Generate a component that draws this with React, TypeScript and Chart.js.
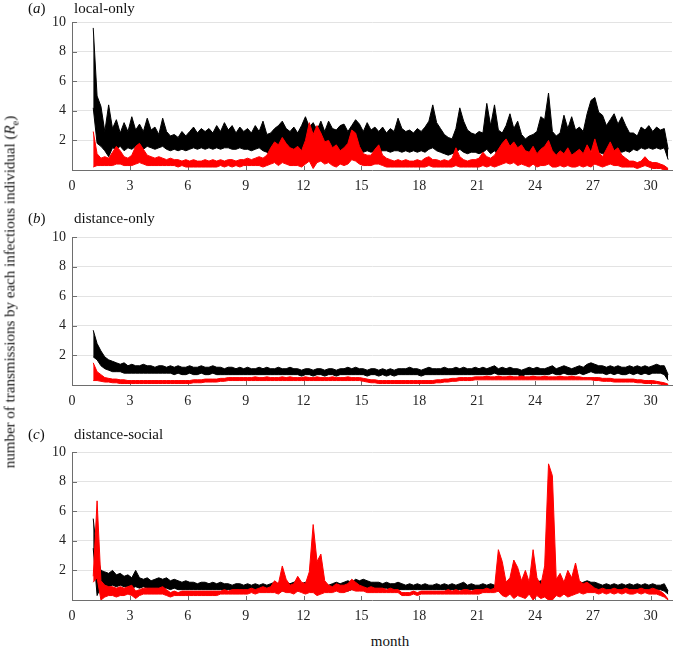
import React, { useEffect, useRef } from "react";
import { Chart, registerables } from "chart.js";

Chart.register(...registerables);

// time axis: first sample month and sampling step (months)
const START_MONTH = 1.1;
const STEP = 0.2;
const X_TICKS = [0, 3, 6, 9, 12, 15, 18, 21, 24, 27, 30];
const Y_TICKS = [2, 4, 6, 8, 10];
const X_MAX = 31.1;
const Y_MAX = 10;

// ---------- (a) local-only ----------
const A_BLACK_HI = [
  9.6, 5.0, 4.3, 2.6, 4.4, 2.8, 3.4, 2.5, 3.2, 2.6,
  3.6, 2.7, 3.1, 2.6, 3.5, 2.7, 2.9, 2.4, 3.5, 2.6,
  2.3, 2.4, 2.2, 2.6, 2.3, 2.6, 2.9, 2.5, 2.8, 2.6,
  2.8, 2.5, 3.0, 2.6, 3.2, 2.7, 3.0, 2.5, 2.9, 2.6,
  2.8, 2.5, 3.0, 2.6, 3.3, 2.4, 2.5, 2.8, 3.0, 3.3,
  2.8, 2.6, 2.9, 2.5, 3.0, 3.6, 2.9, 3.2, 2.7, 3.3,
  2.6, 3.3, 2.8, 2.7, 3.0, 3.1, 2.6, 3.0, 3.4, 3.1,
  2.6, 3.2, 2.7, 2.9, 2.6, 2.9, 2.5, 2.8, 2.6, 3.5,
  2.8, 2.6, 2.7, 2.5, 2.8, 2.6, 2.9, 3.3, 4.4, 3.2,
  2.8, 2.4, 2.2, 2.1, 2.8, 4.2, 3.3, 2.7, 2.5, 2.4,
  2.6, 2.5, 4.5, 3.0, 4.4, 2.7, 2.5, 3.0, 3.8, 2.8,
  3.3, 2.4, 2.1, 2.3, 2.4, 2.6, 3.6, 3.4, 5.2, 2.6,
  2.3, 2.5, 3.7, 2.8, 3.6, 2.7, 2.9, 2.6, 3.8, 4.7,
  4.9, 3.9, 3.7, 3.0, 3.4, 3.8, 3.1, 3.6, 3.0, 2.5,
  2.5, 2.3, 2.9, 2.7, 3.0, 2.6, 2.9, 2.7, 2.8, 1.4,
];
const A_BLACK_LO = [
  4.2, 1.8, 1.6, 1.3, 0.9, 1.5, 1.4, 1.6, 1.3, 1.5,
  1.4, 1.6, 1.5, 1.4, 1.6, 1.5, 1.4, 1.5, 1.6, 1.4,
  1.3, 1.4, 1.3, 1.4, 1.3, 1.4, 1.5, 1.4, 1.5, 1.4,
  1.5, 1.4, 1.5, 1.4, 1.5, 1.5, 1.4, 1.4, 1.5, 1.4,
  1.4, 1.3, 1.4, 1.5, 1.3, 1.2, 1.1, 1.0, 1.1, 1.2,
  1.0, 0.9, 1.1, 0.9, 1.0, 1.2, 0.8, 1.1, 0.9, 1.2,
  0.9, 1.1, 1.0, 0.8, 1.1, 1.0, 0.9, 1.2, 1.1, 1.3,
  1.2, 1.3, 1.2, 1.3, 1.2, 1.3, 1.3, 1.2, 1.3, 1.3,
  1.2, 1.3, 1.2, 1.3, 1.2, 1.3, 1.2, 1.4, 1.5, 1.3,
  1.2, 1.1, 1.0, 1.1, 1.2, 1.4, 1.2, 1.1, 1.2, 1.2,
  1.1, 1.2, 1.4, 1.1, 1.3, 1.0, 1.1, 1.0, 1.2, 0.9,
  1.0, 0.9, 0.8, 1.0, 0.9, 1.1, 1.0, 1.2, 1.3, 0.9,
  0.9, 0.8, 1.1, 0.9, 1.0, 0.9, 1.1, 1.0, 1.2, 1.3,
  1.4, 1.2, 1.1, 1.2, 1.3, 1.2, 1.3, 1.2, 1.3, 1.2,
  1.4, 1.3, 1.5, 1.4, 1.5, 1.4, 1.5, 1.4, 1.5, 0.7,
];
const A_RED_HI = [
  2.6, 1.1, 0.8, 0.9, 0.8, 1.2, 1.6, 1.3, 0.9, 0.8,
  1.0, 1.6, 1.8, 1.4, 1.0, 0.9, 0.8, 0.9, 0.8, 0.7,
  0.8, 0.7, 0.7, 0.6, 0.7, 0.6, 0.7, 0.6, 0.6, 0.7,
  0.6, 0.7, 0.6, 0.7, 0.6, 0.7, 0.7, 0.6, 0.7, 0.7,
  0.8, 0.7, 0.8, 0.9, 0.8, 1.0, 1.5, 1.9, 1.7, 2.2,
  1.8, 1.5, 1.4, 1.6, 1.3, 2.0, 3.2, 2.4, 3.0, 2.5,
  1.9, 2.0, 1.5, 1.7, 1.3, 1.5, 1.8, 2.7, 2.5, 1.6,
  1.1, 1.0, 1.0, 1.4, 1.7, 1.0, 0.8, 0.7, 0.6, 0.7,
  0.6, 0.7, 0.6, 0.6, 0.7, 0.6, 0.8, 0.9, 0.7, 0.7,
  0.6, 0.7, 0.6, 0.8, 1.5, 0.9, 0.7, 0.6, 0.7, 0.7,
  0.8, 1.2, 0.9, 0.8, 1.0, 1.4, 1.8, 2.1, 1.6, 1.9,
  1.5, 1.7, 1.3, 1.2, 1.6, 1.1, 1.4, 1.6, 2.0, 1.3,
  1.0, 1.3, 1.1, 1.5, 1.0, 1.2, 1.4, 1.1, 1.7, 1.2,
  2.1, 1.2, 0.9, 1.4, 1.9, 1.3, 1.5, 1.0, 0.8, 0.6,
  0.6, 0.5, 0.6, 0.9, 0.6, 0.5, 0.5, 0.4, 0.3, 0.1,
];
const A_RED_LO = [
  0.2, 0.3, 0.3, 0.3, 0.3, 0.3, 0.4, 0.4, 0.3, 0.3,
  0.3, 0.4, 0.5, 0.4, 0.3, 0.3, 0.3, 0.3, 0.3, 0.3,
  0.3, 0.3, 0.2, 0.3, 0.2, 0.2, 0.2, 0.2, 0.2, 0.2,
  0.2, 0.2, 0.2, 0.3, 0.2, 0.3, 0.2, 0.3, 0.2, 0.3,
  0.3, 0.3, 0.3, 0.3, 0.2, 0.3, 0.4, 0.5, 0.3, 0.5,
  0.4, 0.3, 0.3, 0.3, 0.2, 0.4, 0.6, 0.1, 0.5, 0.6,
  0.4, 0.5, 0.3, 0.2, 0.4, 0.3, 0.4, 0.7, 0.6, 0.4,
  0.3, 0.3, 0.3, 0.4, 0.4, 0.3, 0.2, 0.2, 0.2, 0.2,
  0.2, 0.2, 0.2, 0.2, 0.2, 0.2, 0.2, 0.3, 0.2, 0.2,
  0.2, 0.2, 0.2, 0.2, 0.3, 0.2, 0.2, 0.2, 0.2, 0.2,
  0.2, 0.3, 0.2, 0.3, 0.2, 0.3, 0.4, 0.5, 0.4, 0.5,
  0.3, 0.4, 0.3, 0.2, 0.4, 0.2, 0.3, 0.3, 0.4, 0.2,
  0.2, 0.3, 0.2, 0.3, 0.2, 0.2, 0.3, 0.2, 0.3, 0.2,
  0.4, 0.3, 0.2, 0.3, 0.4, 0.3, 0.3, 0.2, 0.2, 0.2,
  0.2, 0.1, 0.2, 0.3, 0.2, 0.1, 0.1, 0.1, 0.0, 0.0,
];

// ---------- (b) distance-only ----------
const B_BLACK_HI = [
  3.7, 2.8, 2.3, 1.9, 1.7, 1.6, 1.5, 1.4, 1.5, 1.3,
  1.4, 1.3, 1.3, 1.4, 1.3, 1.3, 1.2, 1.3, 1.3, 1.2,
  1.3, 1.2, 1.3, 1.2, 1.2, 1.3, 1.2, 1.2, 1.3, 1.2,
  1.2, 1.3, 1.2, 1.2, 1.1, 1.2, 1.2, 1.1, 1.2, 1.1,
  1.2, 1.1, 1.1, 1.2, 1.1, 1.2, 1.1, 1.1, 1.2, 1.1,
  1.1, 1.2, 1.1, 1.1, 1.0, 1.1, 1.1, 1.0, 1.1, 1.1,
  1.0, 1.1, 1.1, 1.0, 1.1, 1.1, 1.2, 1.1, 1.2, 1.1,
  1.1, 1.0, 1.1, 1.1, 1.0, 1.1, 1.0, 1.1, 1.0, 1.1,
  1.1, 1.1, 1.2, 1.1, 1.1, 1.0, 1.1, 1.2, 1.1, 1.1,
  1.1, 1.2, 1.1, 1.1, 1.2, 1.1, 1.2, 1.1, 1.1, 1.2,
  1.1, 1.2, 1.1, 1.2, 1.3, 1.1, 1.2, 1.1, 1.2, 1.1,
  1.1, 1.0, 1.1, 1.2, 1.1, 1.2, 1.1, 1.1, 1.2, 1.3,
  1.1, 1.2, 1.3, 1.2, 1.1, 1.2, 1.3, 1.2, 1.4, 1.5,
  1.4, 1.3, 1.3, 1.2, 1.3, 1.2, 1.3, 1.2, 1.2, 1.3,
  1.2, 1.3, 1.2, 1.3, 1.2, 1.3, 1.4, 1.3, 1.3, 0.7,
];
const B_BLACK_LO = [
  1.9, 1.7, 1.3, 1.1, 1.0, 0.9, 0.9, 0.9, 0.8, 0.8,
  0.8, 0.8, 0.8, 0.8, 0.8, 0.8, 0.8, 0.8, 0.8, 0.8,
  0.8, 0.7, 0.8, 0.7, 0.7, 0.8, 0.7, 0.7, 0.8, 0.7,
  0.7, 0.8, 0.7, 0.7, 0.7, 0.7, 0.7, 0.7, 0.7, 0.7,
  0.7, 0.7, 0.7, 0.7, 0.7, 0.7, 0.7, 0.7, 0.7, 0.7,
  0.7, 0.7, 0.7, 0.7, 0.6, 0.7, 0.7, 0.6, 0.7, 0.7,
  0.6, 0.7, 0.7, 0.6, 0.7, 0.7, 0.7, 0.7, 0.7, 0.7,
  0.7, 0.6, 0.7, 0.7, 0.6, 0.7, 0.6, 0.7, 0.6, 0.7,
  0.7, 0.7, 0.7, 0.7, 0.7, 0.6, 0.7, 0.7, 0.7, 0.7,
  0.7, 0.7, 0.7, 0.7, 0.7, 0.7, 0.7, 0.7, 0.7, 0.7,
  0.7, 0.7, 0.7, 0.7, 0.8, 0.7, 0.7, 0.7, 0.7, 0.7,
  0.7, 0.6, 0.7, 0.7, 0.7, 0.7, 0.7, 0.7, 0.7, 0.8,
  0.7, 0.7, 0.8, 0.7, 0.7, 0.7, 0.8, 0.7, 0.8, 0.9,
  0.8, 0.8, 0.8, 0.7, 0.8, 0.7, 0.8, 0.7, 0.7, 0.8,
  0.7, 0.8, 0.7, 0.8, 0.7, 0.8, 0.8, 0.8, 0.7, 0.3,
];
const B_RED_HI = [
  1.5, 0.9, 0.7, 0.5, 0.45, 0.4, 0.4, 0.35, 0.35, 0.3,
  0.3, 0.3, 0.3, 0.3, 0.3, 0.3, 0.3, 0.3, 0.3, 0.3,
  0.3, 0.3, 0.3, 0.3, 0.3, 0.3, 0.35, 0.35, 0.35, 0.4,
  0.4, 0.4, 0.4, 0.45, 0.45, 0.5, 0.5, 0.5, 0.5, 0.5,
  0.5, 0.5, 0.55, 0.5, 0.5, 0.55, 0.5, 0.5, 0.5, 0.55,
  0.5, 0.55, 0.5, 0.5, 0.5, 0.55, 0.5, 0.5, 0.55, 0.5,
  0.5, 0.5, 0.55, 0.5, 0.5, 0.5, 0.55, 0.5, 0.5, 0.5,
  0.45, 0.4, 0.35, 0.35, 0.3, 0.3, 0.3, 0.3, 0.3, 0.3,
  0.3, 0.3, 0.3, 0.3, 0.3, 0.3, 0.3, 0.3, 0.3, 0.35,
  0.35, 0.4, 0.4, 0.45, 0.45, 0.5, 0.5, 0.5, 0.5, 0.55,
  0.55, 0.55, 0.6, 0.55, 0.55, 0.6, 0.55, 0.55, 0.6, 0.55,
  0.55, 0.6, 0.55, 0.55, 0.6, 0.55, 0.55, 0.6, 0.55, 0.55,
  0.55, 0.6, 0.55, 0.55, 0.6, 0.55, 0.55, 0.5, 0.5, 0.5,
  0.5, 0.5, 0.45, 0.45, 0.45, 0.4, 0.4, 0.4, 0.4, 0.4,
  0.4, 0.35, 0.35, 0.3, 0.3, 0.3, 0.25, 0.2, 0.15, 0.05,
];
const B_RED_LO = [
  0.3, 0.3, 0.25, 0.2, 0.2, 0.15, 0.15, 0.1, 0.1, 0.1,
  0.1, 0.1, 0.1, 0.1, 0.1, 0.1, 0.1, 0.1, 0.1, 0.1,
  0.1, 0.1, 0.1, 0.1, 0.1, 0.1, 0.15, 0.15, 0.15, 0.2,
  0.2, 0.2, 0.2, 0.25, 0.25, 0.3, 0.3, 0.3, 0.3, 0.3,
  0.3, 0.3, 0.3, 0.3, 0.3, 0.3, 0.3, 0.3, 0.3, 0.3,
  0.3, 0.3, 0.3, 0.3, 0.3, 0.3, 0.3, 0.3, 0.3, 0.3,
  0.3, 0.3, 0.3, 0.3, 0.3, 0.3, 0.3, 0.3, 0.3, 0.3,
  0.25, 0.2, 0.15, 0.15, 0.1, 0.1, 0.1, 0.1, 0.1, 0.1,
  0.1, 0.1, 0.1, 0.1, 0.1, 0.1, 0.1, 0.1, 0.1, 0.15,
  0.15, 0.2, 0.2, 0.25, 0.25, 0.3, 0.3, 0.3, 0.3, 0.35,
  0.35, 0.35, 0.35, 0.35, 0.35, 0.35, 0.35, 0.35, 0.35, 0.35,
  0.35, 0.35, 0.35, 0.35, 0.35, 0.35, 0.35, 0.35, 0.35, 0.35,
  0.35, 0.35, 0.35, 0.35, 0.35, 0.35, 0.35, 0.35, 0.35, 0.35,
  0.3, 0.3, 0.25, 0.25, 0.25, 0.2, 0.2, 0.2, 0.2, 0.2,
  0.2, 0.15, 0.15, 0.1, 0.1, 0.1, 0.1, 0.05, 0.0, 0.0,
];

// ---------- (c) distance-social ----------
const C_BLACK_HI = [
  5.5, 3.0, 2.0, 1.9, 1.8, 2.0, 1.7, 1.8, 1.6, 1.7,
  1.5, 2.0, 1.5, 1.4, 1.5, 1.3, 1.4, 1.5, 1.4, 1.5,
  1.3, 1.4, 1.3, 1.2, 1.3, 1.2, 1.2, 1.1, 1.2, 1.2,
  1.1, 1.2, 1.1, 1.2, 1.1, 1.1, 1.0, 1.1, 1.1, 1.0,
  1.1, 1.0, 1.1, 1.0, 1.1, 1.0, 1.1, 1.2, 1.1, 1.5,
  1.2, 1.1, 1.2, 1.3, 1.1, 1.2, 1.1, 1.3, 1.6, 1.3,
  1.1, 1.0, 1.1, 1.2, 1.1, 1.2, 1.3, 1.2, 1.4, 1.3,
  1.4, 1.3, 1.2, 1.2, 1.2, 1.1, 1.2, 1.1, 1.1, 1.2,
  1.1, 1.0, 1.1, 1.0, 1.1, 1.0, 1.1, 1.0, 1.0, 1.1,
  1.0, 1.1, 1.0, 1.1, 1.0, 1.1, 1.2, 1.0, 1.1, 1.0,
  1.0, 1.1, 1.0, 1.1, 1.0, 1.1, 1.2, 1.2, 1.3, 1.2,
  1.3, 1.2, 1.3, 1.2, 1.3, 1.2, 1.3, 1.2, 1.4, 1.3,
  1.2, 1.3, 1.2, 1.2, 1.3, 1.2, 1.1, 1.2, 1.3, 1.2,
  1.2, 1.1, 1.0, 1.1, 1.0, 1.1, 1.0, 1.1, 1.0, 1.1,
  1.0, 1.1, 1.0, 1.1, 1.0, 1.1, 1.0, 1.0, 1.1, 0.6,
];
const C_BLACK_LO = [
  3.5, 0.3, 0.9, 1.0, 0.9, 1.0, 0.9, 1.0, 0.9, 0.9,
  0.8, 0.9, 0.8, 0.9, 0.8, 0.8, 0.8, 0.8, 0.8, 0.8,
  0.7, 0.8, 0.7, 0.7, 0.7, 0.7, 0.7, 0.7, 0.7, 0.7,
  0.7, 0.7, 0.7, 0.7, 0.7, 0.7, 0.7, 0.7, 0.7, 0.7,
  0.7, 0.7, 0.7, 0.7, 0.7, 0.7, 0.7, 0.6, 0.6, 0.6,
  0.6, 0.6, 0.7, 0.6, 0.7, 0.5, 0.6, 0.6, 0.5, 0.6,
  0.7, 0.7, 0.6, 0.7, 0.7, 0.6, 0.6, 0.7, 0.7, 0.7,
  0.8, 0.8, 0.8, 0.8, 0.8, 0.8, 0.8, 0.7, 0.7, 0.7,
  0.7, 0.7, 0.7, 0.7, 0.7, 0.7, 0.7, 0.7, 0.7, 0.7,
  0.7, 0.7, 0.7, 0.7, 0.7, 0.7, 0.7, 0.7, 0.7, 0.7,
  0.7, 0.7, 0.7, 0.7, 0.7, 0.6, 0.5, 0.5, 0.6, 0.5,
  0.5, 0.4, 0.5, 0.4, 0.3, 0.5, 0.4, 0.3, 0.2, 0.4,
  0.5, 0.4, 0.5, 0.4, 0.5, 0.5, 0.6, 0.6, 0.7, 0.7,
  0.7, 0.7, 0.7, 0.7, 0.7, 0.7, 0.7, 0.7, 0.7, 0.7,
  0.7, 0.7, 0.7, 0.7, 0.7, 0.7, 0.7, 0.7, 0.6, 0.4,
];
const C_RED_HI = [
  1.6, 6.7, 1.3, 1.0, 0.9, 0.9, 0.8, 0.9, 0.8, 0.9,
  1.0, 0.6, 0.7, 0.8, 0.8, 0.8, 0.8, 0.8, 0.9, 0.7,
  0.5, 0.6, 0.5, 0.6, 0.6, 0.6, 0.6, 0.6, 0.6, 0.6,
  0.6, 0.6, 0.6, 0.6, 0.7, 0.6, 0.7, 0.7, 0.7, 0.7,
  0.7, 0.8, 0.7, 0.8, 0.9, 0.8, 0.9, 1.3, 1.1, 2.3,
  1.4, 1.0, 1.1, 1.6, 1.2, 1.1, 1.9, 5.1, 2.6, 3.1,
  1.3, 1.0, 0.9, 1.1, 1.0, 1.0, 1.1, 1.4, 1.2, 1.0,
  0.9, 0.8, 0.9, 0.8, 0.8, 0.8, 0.7, 0.8, 0.7, 0.7,
  0.5, 0.5, 0.5, 0.6, 0.5, 0.6, 0.6, 0.6, 0.6, 0.6,
  0.6, 0.6, 0.7, 0.6, 0.7, 0.6, 0.7, 0.7, 0.6, 0.7,
  0.7, 0.7, 0.8, 0.7, 0.8, 3.4, 2.6, 1.2, 1.5, 2.7,
  2.2, 1.3, 2.0, 1.2, 3.4, 1.5, 1.0, 2.3, 9.2, 8.4,
  1.4, 1.8, 1.2, 2.0, 1.5, 2.5, 1.3, 1.1, 1.2, 1.0,
  0.8, 0.7, 0.8, 0.7, 0.7, 0.8, 0.7, 0.7, 0.8, 0.7,
  0.7, 0.7, 0.8, 0.7, 0.7, 0.8, 0.7, 0.6, 0.4, 0.05,
];
const C_RED_LO = [
  1.2, 1.5, 0.0, 0.2, 0.3, 0.3, 0.2, 0.3, 0.3, 0.4,
  0.3, 0.1, 0.3, 0.4, 0.4, 0.4, 0.4, 0.4, 0.4, 0.3,
  0.2, 0.3, 0.3, 0.3, 0.3, 0.3, 0.3, 0.3, 0.3, 0.3,
  0.3, 0.3, 0.3, 0.4, 0.4, 0.4, 0.4, 0.4, 0.4, 0.4,
  0.4, 0.5, 0.4, 0.5, 0.5, 0.5, 0.5, 0.5, 0.4, 0.6,
  0.5, 0.5, 0.4, 0.6, 0.5, 0.4, 0.5, 0.5, 0.3, 0.4,
  0.5, 0.5, 0.5, 0.6, 0.5, 0.5, 0.6, 0.7, 0.6, 0.6,
  0.6, 0.5, 0.5, 0.5, 0.5, 0.5, 0.5, 0.5, 0.5, 0.5,
  0.3, 0.3, 0.3, 0.4, 0.3, 0.4, 0.4, 0.4, 0.4, 0.4,
  0.4, 0.4, 0.4, 0.4, 0.4, 0.4, 0.4, 0.4, 0.4, 0.4,
  0.4, 0.5, 0.5, 0.5, 0.5, 0.6, 0.3, 0.2, 0.4, 0.1,
  0.3, 0.2, 0.1, 0.4, 0.0, 0.3, 0.1, 0.2, 0.0, 0.0,
  0.3, 0.2, 0.4, 0.2, 0.3, 0.4, 0.5, 0.4, 0.5, 0.5,
  0.5, 0.4, 0.5, 0.4, 0.5, 0.4, 0.5, 0.4, 0.5, 0.4,
  0.4, 0.5, 0.4, 0.5, 0.4, 0.4, 0.4, 0.3, 0.2, 0.0,
];

const FONT = '"Liberation Serif", "Times New Roman", serif';
const BLACK = "#000000";
const RED = "#ff0000";
const AXIS = "#6e6e6e";
const GRID = "#e3e3e3";

const toPoints = (vals: number[]) =>
  vals.map((v, i) => ({ x: Math.round((START_MONTH + STEP * i) * 10) / 10, y: v }));

const innerTicks = {
  id: "innerTicks",
  beforeDatasetsDraw(chart: any) {
    const { ctx, chartArea, scales } = chart;
    const { left, bottom } = chartArea;
    ctx.save();
    ctx.strokeStyle = AXIS;
    ctx.lineWidth = 1;
    ctx.beginPath();
    X_TICKS.forEach((v) => {
      const px = Math.round(scales.x.getPixelForValue(v)) + 0.5;
      ctx.moveTo(px, bottom);
      ctx.lineTo(px, bottom - 4);
    });
    Y_TICKS.forEach((v) => {
      const py = Math.round(scales.y.getPixelForValue(v)) + 0.5;
      ctx.moveTo(left, py);
      ctx.lineTo(left + 5, py);
    });
    ctx.stroke();
    ctx.restore();
  },
};

type PanelProps = {
  top: number;
  blackHi: number[];
  blackLo: number[];
  redHi: number[];
  redLo: number[];
};

function Panel({ top, blackHi, blackLo, redHi, redLo }: PanelProps) {
  const ref = useRef<HTMLCanvasElement | null>(null);
  useEffect(() => {
    if (!ref.current) return;
    const line = (color: string, vals: number[], fill: any) => ({
      data: toPoints(vals),
      borderColor: color,
      backgroundColor: color,
      borderWidth: 1,
      pointRadius: 0,
      tension: 0,
      fill,
    });
    const chart = new Chart(ref.current, {
      type: "line",
      data: {
        datasets: [
          line(RED, redLo, false),
          line(RED, redHi, "-1"),
          line(BLACK, blackLo, false),
          line(BLACK, blackHi, "-1"),
        ],
      },
      plugins: [innerTicks],
      options: {
        animation: false,
        responsive: false,
        devicePixelRatio: 1,
        layout: { padding: { top: 22, right: 3, left: 0, bottom: 0 } },
        plugins: { legend: { display: false }, tooltip: { enabled: false } },
        scales: {
          x: {
            type: "linear",
            min: 0,
            max: X_MAX,
            afterBuildTicks: (axis: any) => {
              axis.ticks = X_TICKS.map((v) => ({ value: v }));
            },
            afterFit: (scale: any) => {
              scale.height = 28;
            },
            grid: { display: false, drawTicks: false },
            border: { display: true, color: AXIS, width: 1 },
            ticks: {
              color: "#222",
              padding: 8,
              maxRotation: 0,
              autoSkip: false,
              font: { family: FONT, size: 14 },
            },
          },
          y: {
            type: "linear",
            min: 0,
            max: Y_MAX,
            afterBuildTicks: (axis: any) => {
              axis.ticks = Y_TICKS.map((v) => ({ value: v }));
            },
            afterFit: (scale: any) => {
              scale.width = 72;
            },
            grid: { display: true, color: GRID, lineWidth: 1, drawTicks: false },
            border: { display: true, color: AXIS, width: 1 },
            ticks: {
              color: "#222",
              padding: 6,
              autoSkip: false,
              font: { family: FONT, size: 14 },
            },
          },
        },
      } as any,
    });
    return () => chart.destroy();
  }, [top, blackHi, blackLo, redHi, redLo]);
  return (
    <canvas
      ref={ref}
      width={675}
      height={198}
      style={{ position: "absolute", left: 0, top, width: 675, height: 198 }}
    />
  );
}

const textStyle: React.CSSProperties = {
  position: "absolute",
  fontFamily: FONT,
  fontSize: 15,
  lineHeight: "15px",
  color: "#111",
  whiteSpace: "nowrap",
};

function PanelTitle({ top, letter, name }: { top: number; letter: string; name: string }) {
  return (
    <>
      <div style={{ ...textStyle, left: 28, top }}>
        (<i>{letter}</i>)
      </div>
      <div style={{ ...textStyle, left: 74, top }}>{name}</div>
    </>
  );
}

export default function App() {
  return (
    <div
      style={{
        position: "absolute",
        left: 0,
        top: 0,
        width: 675,
        height: 649,
        background: "#fff",
        overflow: "hidden",
      }}
    >
      <Panel top={0} blackHi={A_BLACK_HI} blackLo={A_BLACK_LO} redHi={A_RED_HI} redLo={A_RED_LO} />
      <Panel top={215} blackHi={B_BLACK_HI} blackLo={B_BLACK_LO} redHi={B_RED_HI} redLo={B_RED_LO} />
      <Panel top={430} blackHi={C_BLACK_HI} blackLo={C_BLACK_LO} redHi={C_RED_HI} redLo={C_RED_LO} />
      <PanelTitle top={1} letter="a" name="local-only" />
      <PanelTitle top={211} letter="b" name="distance-only" />
      <PanelTitle top={427} letter="c" name="distance-social" />
      <div style={{ ...textStyle, left: 390, top: 634, transform: "translateX(-50%)" }}>month</div>
      <div
        style={{
          ...textStyle,
          left: 10,
          top: 292,
          transform: "translate(-50%, -50%) rotate(-90deg)",
        }}
      >
        number of transmissions by each infectious individual (<i>R</i>
        <sub style={{ fontSize: "0.7em", lineHeight: 0 }}>e</sub>)
      </div>
    </div>
  );
}
